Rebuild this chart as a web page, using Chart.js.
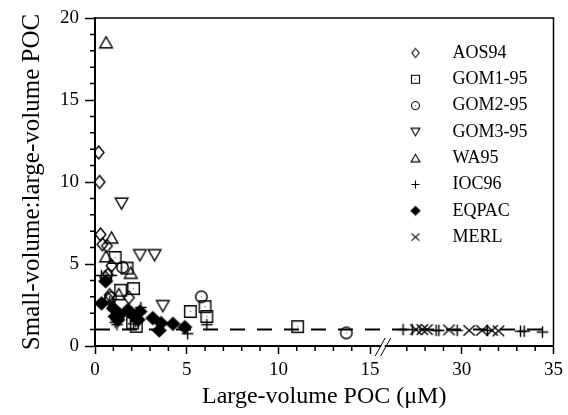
<!DOCTYPE html>
<html>
<head>
<meta charset="utf-8">
<script src="https://cdn.jsdelivr.net/npm/chart.js@4.4.1/dist/chart.umd.min.js"></script>
<style>
  html, body { margin: 0; padding: 0; background: #fff; }
  #wrap { width: 568px; height: 415px; }
</style>
</head>
<body>
<div id="wrap"><canvas id="pocRatio" width="568" height="415"></canvas></div>
<script>
// small-volume : large-volume POC ratio against large-volume POC

// x is real POC (uM). the axis is broken after 15, points past the break are moved left by 10
const aosX = [0.2, 0.25, 0.3, 0.4, 0.65, 0.9, 0.7, 0.55, 0.8, 0.75, 1.85];
const aosY = [11.8, 10.0, 6.8, 6.2, 6.1, 4.9, 4.35, 4.2, 3.1, 2.85, 2.95];

const gom1X = [1.1, 1.75, 1.4, 2.1, 2.05, 2.25, 5.2, 6.0, 6.1, 11.05];
const gom1Y = [5.4, 4.75, 3.4, 3.5, 1.4, 1.2, 2.1, 2.4, 1.8, 1.18];

const gom2X = [1.5, 0.85, 5.8, 13.7];
const gom2Y = [4.8, 2.95, 3.0, 0.8];

const gom3X = [1.45, 2.45, 3.25, 3.7];
const gom3Y = [8.7, 5.55, 5.55, 2.45];

const wa95X = [0.6, 0.9, 0.6, 1.95, 1.3];
const wa95Y = [18.5, 6.6, 5.45, 4.45, 3.15];

const ioc96X = [0.35, 0.9, 1.1, 1.2, 2.1, 2.2, 2.5, 0.8, 1.0, 5.05, 6.1, 26.8, 27.3, 28.6, 28.75, 29.75, 31.4, 33.2, 33.4, 34.4];
const ioc96Y = [4.3, 4.3, 1.45, 1.3, 1.35, 1.5, 2.35, 2.7, 2.2, 0.75, 1.3, 1.0, 1.0, 0.95, 0.95, 0.95, 0.95, 0.9, 0.9, 0.85];

const eqpacX = [0.36, 0.58, 1.0, 1.1, 1.35, 1.8, 2.0, 2.45, 2.35, 3.15, 3.6, 3.5, 4.25, 4.9, 1.25];
const eqpacY = [2.6, 3.95, 2.3, 1.8, 1.9, 2.2, 1.95, 2.1, 1.6, 1.7, 1.4, 0.95, 1.35, 1.15, 1.6];

const merlX = [27.5, 27.85, 28.1, 29.3, 30.4, 31.1, 31.65, 32.0];
const merlY = [1.0, 1.0, 1.0, 0.98, 0.95, 0.95, 0.95, 0.92];

// dashed reference line, ratio = 1
const refX = [0, 35];
const refY = [1, 1];

const xTickLabels = ['0', '5', '10', '15', '30', '35'];
const breakAt = 15.5;
const breakGap = 10;

const toAxis = x => (x > breakAt ? x - breakGap : x);
const pts = (xs, ys) => xs.map((x, i) => ({ x: toAxis(x), y: ys[i] }));

// marker glyphs drawn on small canvases, used as pointStyle and in the legend
function marker(kind, s, lw) {
  const c = document.createElement('canvas');
  const n = Math.ceil(16 * s);
  c.width = c.height = n;
  const g = c.getContext('2d');
  const m = n / 2;
  g.strokeStyle = '#000';
  g.fillStyle = '#000';
  g.lineWidth = lw;
  g.beginPath();
  if (kind === 'diamond' || kind === 'filledDiamond') {
    const w = (kind === 'diamond' ? 4.6 : 6.6) * s, h = (kind === 'diamond' ? 5.6 : 6.2) * s;
    g.moveTo(m, m - h); g.lineTo(m + w, m); g.lineTo(m, m + h); g.lineTo(m - w, m); g.closePath();
    if (kind === 'filledDiamond') g.fill(); else g.stroke();
  } else if (kind === 'square') {
    const a = 5 * s;
    g.rect(m - a, m - a, 2 * a, 2 * a); g.stroke();
    g.fillStyle = '#777'; g.fillRect(m - 0.6, m - 0.6, 1.2, 1.2);
  } else if (kind === 'circle') {
    g.arc(m, m, 5 * s, 0, Math.PI * 2); g.stroke();
    g.fillStyle = '#777'; g.fillRect(m - 0.6, m - 0.6, 1.2, 1.2);
  } else if (kind === 'triDown') {
    const w = 5.5 * s;
    g.moveTo(m - w, m - 4.5 * s); g.lineTo(m + w, m - 4.5 * s); g.lineTo(m, m + 5 * s); g.closePath(); g.stroke();
  } else if (kind === 'triUp') {
    const w = 5.5 * s;
    g.moveTo(m - w, m + 4.5 * s); g.lineTo(m + w, m + 4.5 * s); g.lineTo(m, m - 5 * s); g.closePath(); g.stroke();
  } else if (kind === 'plus') {
    const a = 5 * s;
    g.moveTo(m - a, m); g.lineTo(m + a, m); g.moveTo(m, m - a); g.lineTo(m, m + a); g.stroke();
  } else if (kind === 'cross') {
    const a = 5 * s, b = 4.5 * s;
    g.moveTo(m - a, m - b); g.lineTo(m + a, m + b); g.moveTo(m + a, m - b); g.lineTo(m - a, m + b); g.stroke();
  }
  return c;
}

const series = [
  { label: 'AOS94', xs: aosX, ys: aosY, kind: 'diamond' },
  { label: 'GOM1-95', xs: gom1X, ys: gom1Y, kind: 'square' },
  { label: 'GOM2-95', xs: gom2X, ys: gom2Y, kind: 'circle' },
  { label: 'GOM3-95', xs: gom3X, ys: gom3Y, kind: 'triDown' },
  { label: 'WA95', xs: wa95X, ys: wa95Y, kind: 'triUp' },
  { label: 'IOC96', xs: ioc96X, ys: ioc96Y, kind: 'plus' },
  { label: 'EQPAC', xs: eqpacX, ys: eqpacY, kind: 'filledDiamond' },
  { label: 'MERL', xs: merlX, ys: merlY, kind: 'cross' }
];
series.forEach(s => {
  s.plotMarker = marker(s.kind, 1.15, 1.4);
  s.legendMarker = marker(s.kind, 0.8, 1.1);
});

const datasets = series.map(s => ({
  label: s.label,
  data: pts(s.xs, s.ys),
  pointStyle: s.plotMarker,
  showLine: false
}));
datasets.push({
  type: 'line',
  label: 'ratio 1',
  data: pts(refX, refY),
  borderColor: '#000',
  borderWidth: 2,
  borderDash: [15, 12],
  pointRadius: 0,
  order: 10
});

// minor ticks, frame, axis break and the legend inside the plot
const extras = {
  id: 'extras',
  afterDraw(chart) {
    const { ctx, chartArea: a, scales: { x, y } } = chart;
    ctx.save();
    ctx.strokeStyle = '#000';
    ctx.lineWidth = 1.5;
    ctx.beginPath();
    for (let v = 0; v <= 25; v++) {
      if (v % 5 === 0 || v === 16) continue;
      const px = x.getPixelForValue(v);
      ctx.moveTo(px, a.bottom); ctx.lineTo(px, a.bottom + 5);
    }
    for (let v = 0; v <= 20; v++) {
      if (v % 5 === 0) continue;
      const py = y.getPixelForValue(v);
      ctx.moveTo(a.left, py); ctx.lineTo(a.left - 5, py);
    }
    ctx.stroke();

    ctx.beginPath();
    ctx.moveTo(a.left, a.top); ctx.lineTo(a.right, a.top); ctx.lineTo(a.right, a.bottom);
    ctx.stroke();

    const b1 = x.getPixelForValue(15.55), b2 = x.getPixelForValue(15.85);
    ctx.fillStyle = '#fff';
    ctx.fillRect(b1 + 1, a.bottom - 2, b2 - b1 - 2, 4);
    ctx.lineWidth = 1;
    ctx.beginPath();
    [b1, b2].forEach(b => { ctx.moveTo(b - 5, a.bottom + 10); ctx.lineTo(b + 5, a.bottom - 8); });
    ctx.stroke();

    ctx.font = '18px "Liberation Serif"';
    ctx.fillStyle = '#000';
    ctx.textBaseline = 'middle';
    series.forEach((s, i) => {
      const ly = a.top + 35 + i * 26.3;
      const img = s.legendMarker;
      ctx.drawImage(img, a.right - 138 - img.width / 2, ly - img.height / 2);
      ctx.fillText(s.label, a.right - 101, ly);
    });
    ctx.restore();
  }
};

Chart.defaults.font.family = '"Liberation Serif", "Times New Roman", serif';
Chart.defaults.color = '#000';

const ctx = document.getElementById('pocRatio').getContext('2d');
const pocRatio = new Chart(ctx, {
  type: 'scatter',
  data: { datasets: datasets },
  options: {
    responsive: false,
    animation: false,
    layout: { padding: { top: 18, right: 12, left: 0, bottom: 0 } },
    plugins: {
      legend: { display: false },
      tooltip: { enabled: false }
    },
    scales: {
      x: {
        type: 'linear',
        min: 0,
        max: 25,
        afterFit: s => { s.height = 69; },
        ticks: {
          stepSize: 5,
          padding: 5,
          font: { size: 19 },
          callback: (v, i) => xTickLabels[i]
        },
        grid: { drawOnChartArea: false, tickLength: 8, tickWidth: 1.5, tickColor: '#000' },
        border: { color: '#000', width: 2 },
        title: {
          display: true,
          text: 'Large-volume POC (μM)',
          font: { size: 24 },
          padding: { top: 0, bottom: 4 }
        }
      },
      y: {
        min: 0,
        max: 20,
        afterFit: s => { s.width = 95; },
        ticks: { stepSize: 5, padding: 6, font: { size: 19 } },
        grid: { drawOnChartArea: false, tickLength: 10, tickWidth: 1.5, tickColor: '#000' },
        border: { color: '#000', width: 2 },
        title: {
          display: true,
          text: 'Small-volume:large-volume POC',
          font: { size: 25 },
          padding: { top: 17, bottom: 0 }
        }
      }
    }
  },
  plugins: [extras]
});
</script>
</body>
</html>
